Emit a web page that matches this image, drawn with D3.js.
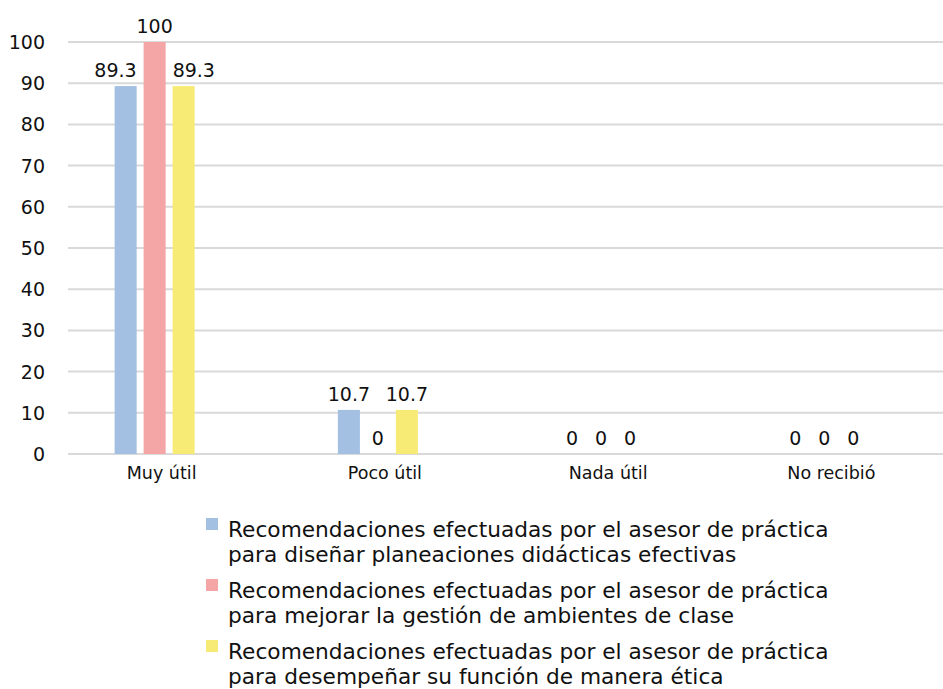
<!DOCTYPE html>
<html><head><meta charset="utf-8">
<script src="https://cdn.jsdelivr.net/npm/d3@7"></script>
<style>body{margin:0;background:#fff}svg{display:block;font-family:"DejaVu Sans",sans-serif}</style>
</head><body><svg id="c" width="943" height="689"></svg>
<script>
const categories = ["Muy útil", "Poco útil", "Nada útil", "No recibió"];
const seriesNames = [
  ["Recomendaciones efectuadas por el asesor de práctica", "para diseñar planeaciones didácticas efectivas"],
  ["Recomendaciones efectuadas por el asesor de práctica", "para mejorar la gestión de ambientes de clase"],
  ["Recomendaciones efectuadas por el asesor de práctica", "para desempeñar su función de manera ética"]
];
const seriesA = [89.3, 10.7, 0, 0];
const seriesB = [100, 0, 0, 0];
const seriesC = [89.3, 10.7, 0, 0];
const yTicks = [0, 10, 20, 30, 40, 50, 60, 70, 80, 90, 100];
const colors = ["#a3bfe2", "#f4a5a5", "#f7eb75"];

const series = [seriesA, seriesB, seriesC];
const svg = d3.select("#c");
const y = d3.scaleLinear().domain([0, 100]).range([454, 42]);
const x = d3.scaleBand().domain(categories).range([43, 936]);
const xs = d3.scaleBand().domain([0, 1, 2]).range([-40, 40]).paddingInner(0.24).paddingOuter(0);

svg.append("g").selectAll("line").data(yTicks).join("line")
  .attr("x1", 68).attr("x2", 943).attr("y1", d => y(d)).attr("y2", d => y(d))
  .attr("stroke", "#d9d9d9").attr("stroke-width", 2);

svg.append("g").selectAll("text").data(yTicks).join("text")
  .attr("x", 45).attr("y", d => y(d) + 7).attr("text-anchor", "end")
  .attr("font-size", 19).attr("fill", "#111").text(d => d);

const measure = svg.append("text").attr("font-size", 19).text(seriesNames[0][0]);
const w = measure.node().getComputedTextLength();
measure.remove();
const lsize = 19 * 601 / w;

categories.forEach((c, i) => {
  const cx = x(c) + x.bandwidth() / 2;
  series.forEach((s, j) => {
    const v = s[i];
    const bx = cx + xs(j);
    if (v > 0) {
      svg.append("rect").attr("x", bx).attr("y", y(v)).attr("width", xs.bandwidth())
        .attr("height", y(0) - y(v)).attr("fill", colors[j]);
    }
  });
  series.forEach((s, j) => {
    const v = s[i];
    const bx = cx + xs(j);
    const t = svg.append("text").attr("y", y(v) - 9)
      .attr("text-anchor", "middle").attr("font-size", 19).attr("fill", "#111").text(v);
    const tw = t.node().getComputedTextLength();
    let lx = bx + xs.bandwidth() / 2;
    if (j > 0 && series[j - 1][i] > v) {
      const edge = cx + xs(j - 1) + xs.bandwidth() + 7;
      lx = Math.max(lx, edge + tw / 2);
    }
    if (j < series.length - 1 && series[j + 1][i] > v) {
      const edge = cx + xs(j + 1) - 7;
      lx = Math.min(lx, edge - tw / 2);
    }
    t.attr("x", lx);
  });
  svg.append("text").attr("x", cx + 7).attr("y", 479).attr("text-anchor", "middle")
    .attr("font-size", 17.5).attr("fill", "#111").text(c);
});

const ly = [531, 592, 653];
seriesNames.forEach((lines, j) => {
  svg.append("rect").attr("x", 206).attr("y", ly[j] - 13).attr("width", 12).attr("height", 12).attr("fill", colors[j]);
  lines.forEach((t, k) => {
    svg.append("text").attr("x", 228).attr("y", ly[j] + 6 + k * 25)
      .attr("font-size", lsize).attr("fill", "#111").text(t);
  });
});
</script></body></html>
